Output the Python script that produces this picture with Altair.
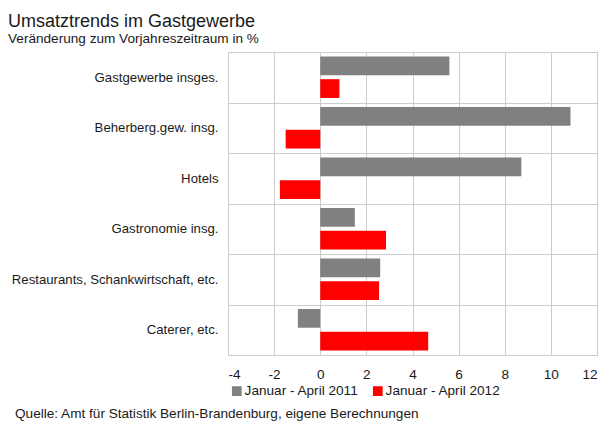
import altair as alt
import pandas as pd

categories = [
    "Gastgewerbe insges.",
    "Beherberg.gew. insg.",
    "Hotels",
    "Gastronomie insg.",
    "Restaurants, Schankwirtschaft, etc.",
    "Caterer, etc.",
]
series = ["Januar - April 2011", "Januar - April 2012"]
v2011 = [5.6, 10.85, 8.72, 1.5, 2.6, -0.97]
v2012 = [0.83, -1.5, -1.75, 2.85, 2.55, 4.68]
colors = ["#808080", "#ff0000"]
x_ticks = [-4, -2, 0, 2, 4, 6, 8, 10, 12]
title_text = "Umsatztrends im Gastgewerbe"
subtitle_text = "Veränderung zum Vorjahreszeitraum  in %"
source_text = "Quelle: Amt für Statistik Berlin-Brandenburg, eigene Berechnungen"

rows = []
for c, a, b in zip(categories, v2011, v2012):
    rows.append({"cat": c, "series": series[0], "value": a})
    rows.append({"cat": c, "series": series[1], "value": b})
df = pd.DataFrame(rows)

FONT = "Liberation Sans"
TXT = "#1a1a1a"
GRID = "#cccccc"
FS = 13.6
W, H = 369, 303

bars = alt.Chart(df).mark_bar().encode(
    x=alt.X(
        "value:Q",
        scale=alt.Scale(domain=[-4, 12], nice=False, zero=False),
        axis=alt.Axis(
            values=x_ticks, title=None, grid=True, gridColor=GRID, ticks=False,
            domain=False, labelPadding=12, labelFontSize=FS, labelColor=TXT,
            labelFont=FONT, labelExpr="'' + datum.value",
        ),
    ),
    y=alt.Y(
        "cat:N",
        sort=categories,
        scale=alt.Scale(paddingInner=0, paddingOuter=0),
        axis=alt.Axis(
            title=None, grid=True, tickBand="extent", gridColor=GRID, ticks=False,
            domain=False, labelPadding=10, labelFontSize=13.2, labelColor=TXT,
            labelFont=FONT, labelLimit=400,
        ),
    ),
    yOffset=alt.YOffset(
        "series:N", sort=series,
        scale=alt.Scale(paddingInner=0.17, paddingOuter=0.2),
    ),
    color=alt.Color(
        "series:N",
        sort=series,
        scale=alt.Scale(domain=series, range=colors),
        legend=alt.Legend(
            orient="none", legendX=2, legendY=332, direction="horizontal",
            title=None, symbolType="square", symbolSize=95, symbolStrokeWidth=0,
            labelFontSize=FS, labelFont=FONT, labelColor=TXT, columnPadding=12,
            padding=0, labelOffset=1,
        ),
    ),
)

title = alt.Chart(pd.DataFrame({"t": [title_text]})).mark_text(
    align="left", baseline="alphabetic", font=FONT, fontSize=18, color=TXT
).encode(text="t:N", x=alt.value(-220), y=alt.value(-25.5))

subtitle = alt.Chart(pd.DataFrame({"t": [subtitle_text]})).mark_text(
    align="left", baseline="alphabetic", font=FONT, fontSize=FS, color=TXT
).encode(text="t:N", x=alt.value(-220), y=alt.value(-9))

source = alt.Chart(pd.DataFrame({"t": [source_text]})).mark_text(
    align="left", baseline="alphabetic", font=FONT, fontSize=FS, color=TXT
).encode(text="t:N", x=alt.value(-213), y=alt.value(366))

chart = alt.layer(bars, title, subtitle, source).properties(
    width=W,
    height=H,
    padding={"left": 220, "top": 44, "right": 6, "bottom": 69},
    autosize=alt.AutoSizeParams(type="none"),
).configure_view(stroke=GRID)

chart.save("out.html", embed_options={"renderer": "svg", "actions": False})
